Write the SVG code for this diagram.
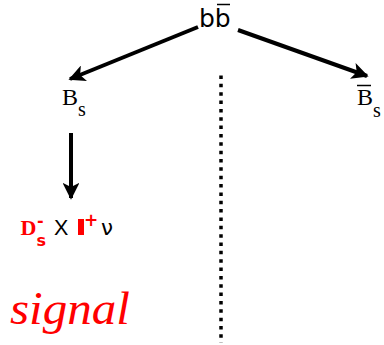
<svg xmlns="http://www.w3.org/2000/svg" width="384" height="345" viewBox="0 0 384 345">
<defs>
<style>
.conn{stroke:#000;stroke-width:4;fill:none}
.sans{font-family:"DejaVu Sans",sans-serif}
.serif{font-family:"Liberation Serif",serif}
.red{fill:#ff0000}
</style>
<marker id="ah" viewBox="0 0 10 10" refX="9" refY="5" markerWidth="4.2" markerHeight="4.2" markerUnits="strokeWidth" orient="auto">
<path d="M0,0 L10,5 L0,10 L2.5,5 z" fill="#000"/>
</marker>
</defs>
<rect width="384" height="345" fill="#fff"/>
<g id="connectors">
<line class="conn" x1="198" y1="27" x2="70" y2="79" marker-end="url(#ah)"/>
<line class="conn" x1="238" y1="30" x2="367" y2="76" marker-end="url(#ah)"/>
<line class="conn" x1="71" y1="133" x2="71" y2="198" marker-end="url(#ah)"/>
<line x1="221" y1="75.5" x2="221" y2="343" stroke="#000" stroke-width="3.5" stroke-dasharray="3.5 4.85"/>
</g>
<g id="bbbar">
<text class="sans" x="199" y="27" font-size="25">bb</text>
<line x1="217" y1="4.5" x2="230" y2="4.5" stroke="#000" stroke-width="1.5"/>
</g>
<g id="Bs">
<text class="serif" x="62" y="105" font-size="24">B<tspan font-size="20" dy="11">s</tspan></text>
</g>
<g id="Bsbar">
<text class="serif" x="357" y="105" font-size="24">B<tspan font-size="20" dy="12">s</tspan></text>
<line x1="357" y1="85.5" x2="371" y2="85.5" stroke="#000" stroke-width="1.5"/>
</g>
<g id="decay">
<text class="red" x="20.5" y="235"><tspan class="serif" font-size="22" font-weight="bold">D</tspan><tspan class="sans" x="37" y="226" font-size="16" font-weight="bold">-</tspan><tspan class="sans" x="36.5" y="246" font-size="16" font-weight="bold">s</tspan></text>
<text font-family="Liberation Sans, sans-serif" x="54" y="235" font-size="21.5">X</text>
<rect x="78" y="219" width="6" height="16" class="red"/>
<text class="sans red" x="84" y="225.5" font-size="17" font-weight="bold">+</text>
<text class="sans" x="101" y="235" font-size="21.5">ν</text>
</g>
<g id="signal">
<text class="serif red" x="10" y="324" font-size="46" font-style="italic" textLength="120" lengthAdjust="spacingAndGlyphs">signal</text>
</g>
</svg>
